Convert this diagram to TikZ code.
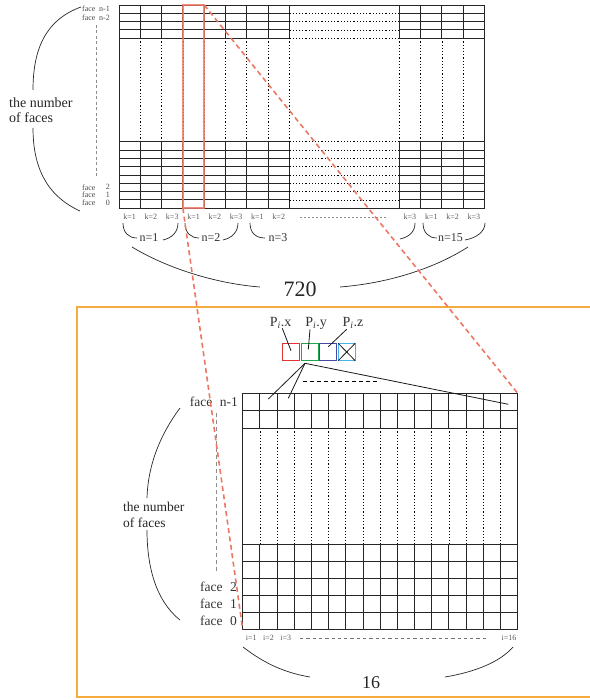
\documentclass[tikz,border=0pt]{standalone}
\usepackage{fontspec}
\setmainfont{Liberation Serif}
\definecolor{salmon}{RGB}{236,120,100}
\definecolor{frameorange}{RGB}{245,172,60}
\definecolor{pred}{RGB}{230,50,50}
\definecolor{pgreen}{RGB}{30,165,80}
\definecolor{pblue}{RGB}{70,70,165}
\definecolor{pcyan}{RGB}{70,180,230}
\begin{document}
\begin{tikzpicture}[x=1pt,y=-1pt,
  gl/.style={line width=0.9pt, black!85},
  bgl/.style={line width=1pt, black!85},
  dl/.style={line width=0.7pt, black, dash pattern=on 1.2pt off 2pt},
  bracel/.style={line width=0.7pt, black!85},
  tinylab/.style={font=\fontsize{8}{9}\selectfont, text=black!65, inner sep=0pt},
  facetop/.style={font=\fontsize{8}{9}\selectfont, text=black!70, inner sep=0pt},
  facebot/.style={font=\fontsize{13.5}{15}\selectfont, text=black!80, inner sep=0pt},
  grouplab/.style={font=\fontsize{12}{13}\selectfont, text=black!80, inner sep=0pt},
  numlab/.style={text=black!85, inner sep=0pt},
  plab/.style={font=\fontsize{14}{15}\selectfont, text=black!80, inner sep=0pt, anchor=base},
  pbox/.style={minimum width=17pt, minimum height=17.4pt, inner sep=0pt, outer sep=0pt, line width=1pt},
  hilite/.style={draw=salmon, line width=2pt, opacity=0.85},
  zoomline/.style={draw=salmon, line width=1.6pt, dash pattern=on 5pt off 3.5pt},
  graydash/.style={draw=black!45, line width=1pt, dash pattern=on 3pt off 2.5pt},
  thin/.style={line width=0.8pt, black!90}
]
\useasboundingbox (0,0) rectangle (589,700);

% ---------------- top grid ----------------
\foreach \x in {140.3,161.6,182.9,204.2,225.5,246.8,268.1,289.4,399.3,420.6,441.9,463.2} {
  \draw[gl] (\x,5) -- (\x,38.2);
  \draw[gl] (\x,141.8) -- (\x,208.2);
  \draw[dl] (\x,38.2) -- (\x,141.8);
}
\foreach \y in {13.3,21.6,29.9,38.2,141.8,150.1,158.4,166.7,175,183.3,191.6,199.9} {
  \draw[gl] (119,\y) -- (289.4,\y);
  \draw[dl] (289.4,\y) -- (399.3,\y);
  \draw[gl] (399.3,\y) -- (484.5,\y);
}
\draw[gl] (119,5) rectangle (484.5,208.2);

% face labels (top)
\node[facetop, anchor=west] (tfa) at (82,9.2) {face};
\node[facetop, anchor=east] (tfan) at (110,9.2) {n-1};
\node[facetop, anchor=west] (tfb) at (82,17.5) {face};
\node[facetop, anchor=east] (tfbn) at (110,17.5) {n-2};
\node[facetop, anchor=west] (tfc) at (82,187.3) {face};
\node[facetop, anchor=east] (tfcn) at (110,187.3) {2};
\node[facetop, anchor=west] (tfd) at (82,194.6) {face};
\node[facetop, anchor=east] (tfdn) at (110,194.6) {1};
\node[facetop, anchor=west] (tfe) at (82,203) {face};
\node[facetop, anchor=east] (tfen) at (110,203) {0};
\draw[graydash] (96.7,25) -- (96.7,178);

% number of faces (top)
\node[font=\fontsize{14}{15}\selectfont, text=black!85, align=left, inner sep=0pt, anchor=west] (tnum) at (9,110.5) {the number\\of faces};
\draw[bracel] (81,7) .. controls (45,20) and (33,50) .. (33,90);
\draw[bracel] (33,128) .. controls (33,165) and (45,195) .. (80,211);

% k labels
\foreach \x/\t [count=\c] in {129.65/k=1,150.95/k=2,172.25/k=3,193.55/k=1,214.85/k=2,236.15/k=3,257.45/k=1,278.75/k=2,409.95/k=3,431.25/k=1,452.55/k=2,473.85/k=3}
  \node[tinylab] (k\c) at (\x,217) {\t};
\draw[black!45, line width=0.6pt, dash pattern=on 2pt off 2pt] (300,217) -- (388,217);

% group braces
\node[grouplab] (g1) at (149,238) {n=1};
\node[grouplab] (g2) at (211,238) {n=2};
\node[grouplab] (g3) at (278,238) {n=3};
\node[grouplab] (g15) at (450.5,238) {n=15};
\draw[bracel] (123,223) .. controls (123,233) and (129,238) .. (137,238);
\draw[bracel] (163,240) .. controls (172,238) and (178,232) .. (178,223);
\draw[bracel] (185,223) .. controls (185,233) and (191,238) .. (199,238);
\draw[bracel] (223,240) .. controls (232,238) and (238,232) .. (238,223);
\draw[bracel] (250,223) .. controls (250,233) and (256,238) .. (265,238);
\draw[bracel] (400,239) .. controls (409,237) and (415,232) .. (415,223);
\draw[bracel] (423,223) .. controls (423,233) and (429,238) .. (437,238);
\draw[bracel] (465,240) .. controls (476,238) and (485,232) .. (485,223);

% 720 brace
\node[numlab, font=\fontsize{22}{24}\selectfont] (n720) at (300,289) {720};
\draw[bracel] (132,247) .. controls (170,270) and (220,284) .. (260,287);
\draw[bracel] (340,287) .. controls (390,283) and (435,268) .. (468,247);

% highlight column
\draw[hilite] (182.9,5) rectangle (204.2,208.2);

% ---------------- orange frame ----------------
\draw[frameorange, line width=2pt] (592,307) -- (77,307) -- (77,697) -- (592,697);

% ---------------- bottom grid ----------------
\foreach \i in {1,...,15} {
  \pgfmathsetmacro\xx{242.7+17.1875*\i}
  \draw[bgl] (\xx,393.3) -- (\xx,428.1);
  \draw[dl] (\xx,428.1) -- (\xx,544.2);
  \draw[bgl] (\xx,544.2) -- (\xx,629.3);
}
\foreach \y in {410.7,428.1,544.2,561.2,578.3,595.3,612.3}
  \draw[bgl] (242.7,\y) -- (517.7,\y);
\draw[bgl] (242.7,393.3) rectangle (517.7,629.3);

% face labels (bottom)
\node[facebot, anchor=east] (bfa) at (238,402) {face\hspace{7.5pt}n-1};
\node[facebot, anchor=east] (bfc) at (237,587) {face\hspace{7.5pt}2};
\node[facebot, anchor=east] (bfd) at (237,604) {face\hspace{7.5pt}1};
\node[facebot, anchor=east] (bfe) at (237,621) {face\hspace{7.5pt}0};
\draw[black!45, line width=1pt, dash pattern=on 4pt off 3pt] (216.7,413) -- (216.7,573);

% number of faces (bottom)
\node[font=\fontsize{13.5}{16.5}\selectfont, text=black!85, align=left, inner sep=0pt, anchor=west] (bnum) at (123,515) {the number\\of faces};
\draw[bracel] (180,408) .. controls (160,435) and (148,465) .. (147,498);
\draw[bracel] (147,530) .. controls (147,565) and (155,600) .. (180,620);

% i labels
\node[tinylab] (i1) at (251.3,638) {i=1};
\node[tinylab] (i2) at (268.5,638) {i=2};
\node[tinylab] (i3) at (285.7,638) {i=3};
\node[tinylab] (i16) at (509.1,638) {i=16};
\draw[black!55, line width=0.7pt, dash pattern=on 3.3pt off 3pt] (300,638) -- (488,638);

% 16 brace
\node[numlab, font=\fontsize{18}{20}\selectfont] (n16) at (371,683) {16};
\draw[bracel] (243,647) .. controls (260,660) and (280,672) .. (310,677);
\draw[bracel] (445,677) .. controls (475,672) and (500,662) .. (513,647);

% ---------------- point component boxes ----------------
\node[pbox, draw=pred] (bx) at (290.8,352) {};
\node[pbox, draw=pgreen] (by) at (309.5,352) {};
\node[pbox, draw=pblue] (bz) at (328.3,352) {};
\node[pbox, draw=pcyan] (bw) at (346.7,352) {};
\draw[thin] (bw.north west) -- (bw.south east);
\draw[thin] (bw.north east) -- (bw.south west);

\node[plab] (px) at (280.5,326.5) {P\textsubscript{\itshape i}.x};
\node[plab] (py) at (316,326.5) {P\textsubscript{\itshape i}.y};
\node[plab] (pz) at (353,326.5) {P\textsubscript{\itshape i}.z};
\coordinate (pxe) at (291,350.7);
\coordinate (pye) at (308.3,349.3);
\coordinate (pze) at (328.3,346.7);
\draw[thin] (282.3,328.3) -- (pxe);
\draw[thin] (310,329.3) -- (pye);
\draw[thin] (346.7,329.3) -- (pze);

\coordinate (fan) at (305,363.3);
\coordinate (c2) at (268.3,399);
\coordinate (c3) at (288.3,398.3);
\coordinate (c16) at (508.3,404.3);
\draw[thin] (fan) -- (c2);
\draw[thin] (fan) -- (c3);
\draw[thin] (fan) -- (c16);
\draw[black, line width=0.7pt, dash pattern=on 4pt off 3pt] (303,381.7) -- (380,381.7);

% ---------------- zoom lines ----------------
\draw[zoomline] (204.2,5) -- (517.7,393.3);
\draw[zoomline] (182.9,208.2) -- (242.7,629.3);
\end{tikzpicture}
\end{document}
